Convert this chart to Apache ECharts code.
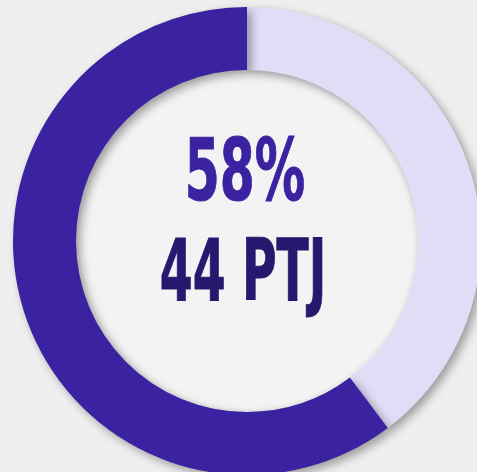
<!DOCTYPE html>
<html>
<head>
<meta charset="utf-8">
<script src="https://cdn.jsdelivr.net/npm/echarts@6/dist/echarts.min.js"></script>
<style>
  html, body { margin: 0; padding: 0; background: #efefef; }
  #chart { width: 477px; height: 472px; }
</style>
</head>
<body>
<div id="chart"></div>
<script>
// Donut data
const categories = ["Remaining", "PTJ"];
const values = [29, 44];
const colors = ["#e0ddf7", "#3a22a0"];
const percentLabel = "58%";
const countLabel = "44 PTJ";

const chart = echarts.init(document.getElementById("chart"));

const condensed = "'DejaVu Sans Condensed', 'Liberation Sans Narrow', sans-serif";

const option = {
  backgroundColor: "#efefef",
  animation: false,
  tooltip: { show: false },
  series: [
    {
      type: "pie",
      center: [247, 241],
      radius: [171, 234],
      startAngle: 90,
      clockwise: true,
      silent: true,
      label: { show: false },
      labelLine: { show: false },
      emphasis: { disabled: true },
      itemStyle: {
        shadowBlur: 10,
        shadowColor: "rgba(0,0,0,0.35)",
        shadowOffsetX: 4,
        shadowOffsetY: 4,
      },
      data: categories.map((name, i) => ({
        name: name,
        value: values[i],
        itemStyle: { color: colors[i] },
      })),
    },
  ],
  graphic: [
    {
      type: "circle",
      silent: true,
      z: -1,
      shape: { cx: 247, cy: 241, r: 168 },
      style: { fill: "#f3f3f3" },
    },
    {
      type: "text",
      x: 245,
      y: 178,
      scaleX: 0.65,
      style: {
        text: percentLabel,
        fill: "#3b22a0",
        stroke: "#3b22a0",
        lineWidth: 1,
        font: "bold 86px " + condensed,
        textAlign: "center",
        textVerticalAlign: "middle",
      },
    },
    {
      type: "text",
      x: 243,
      y: 278,
      scaleX: 0.61,
      style: {
        text: countLabel,
        fill: "#26186e",
        stroke: "#26186e",
        lineWidth: 1,
        font: "bold 86px " + condensed,
        textAlign: "center",
        textVerticalAlign: "middle",
      },
    },
  ],
};

chart.setOption(option);
</script>
</body>
</html>
